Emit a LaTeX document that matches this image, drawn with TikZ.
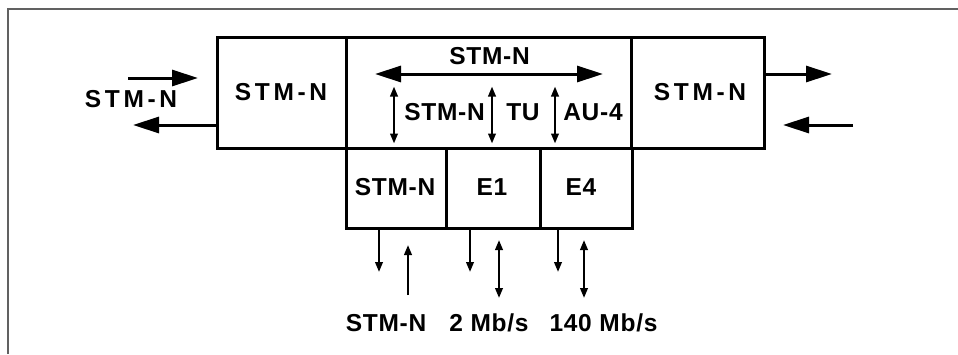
\documentclass[tikz,border=0pt]{standalone}
\usepackage{fontspec}
\setmainfont{Liberation Sans}
\newfontfamily\wide[LetterSpace=15]{Liberation Sans}
\newfontfamily\normalf[LetterSpace=3]{Liberation Sans}
\usetikzlibrary{arrows.meta}
\begin{document}
\begin{tikzpicture}[x=1pt,y=-1pt,
  box/.style={draw,line width=3pt,minimum width=#1,inner sep=0pt},
  txt/.style={inner sep=0pt,font=\normalf\fontsize{24.5}{24.5}\bfseries},
  wtxt/.style={inner sep=0pt,font=\wide\fontsize{24.5}{24.5}\bfseries},
  big/.style={line width=3pt,-{Triangle[length=26pt,width=16pt]}},
  sml/.style={line width=2.2pt,-{Triangle[length=10pt,width=7.5pt]}},
  dbl/.style={line width=2.2pt,{Triangle[length=10pt,width=7.5pt]}-{Triangle[length=10pt,width=7.5pt]}},
  bigdbl/.style={line width=3pt,{Triangle[length=26pt,width=16pt]}-{Triangle[length=26pt,width=16pt]}}]
\useasboundingbox (0,0) rectangle (958,354);
\draw[line width=1.8pt,draw=black!62] (7.7,354) -- (7.7,9.2) -- (958,9.2);
% top boxes
\node[box=129pt,minimum height=111pt] (L) at (281.5,92.5) {};
\node[box=285pt,minimum height=111pt] (M) at (488.5,92.5) {};
\node[box=133pt,minimum height=111pt] (R) at (697.5,92.5) {};
% bottom boxes
\node[box=100pt,minimum height=80pt] (B1) at (396,188) {};
\node[box=94pt,minimum height=80pt] (B2) at (493,188) {};
\node[box=92pt,minimum height=80pt] (B3) at (586,188) {};
% box texts
\node[wtxt] (tL) at (281,92) {STM-N};
\node[wtxt] (tR) at (700,92) {STM-N};
\node[txt] (tB1) at (395,187) {STM-N};
\node[txt] (tB2) at (492,187) {E1};
\node[txt] (tB3) at (581,187) {E4};
\node[txt] (tM) at (489.5,56) {STM-N};
\node[txt] (tM1) at (444.5,112.5) {STM-N};
\node[txt] (tM2) at (523,112.5) {TU};
\node[txt] (tM3) at (593,112.5) {AU-4};
% outside labels
\node[wtxt] (lab) at (131,99.5) {STM-N};
\node[txt] (o1) at (386,323) {STM-N};
\node[txt] (o2) at (489,323) {2 Mb/s};
\node[txt] (o3) at (603.5,323) {140 Mb/s};
% coordinates
\coordinate (a1) at (128,78);
\coordinate (a2) at (198,78);
\coordinate (a3) at (133,125);
\coordinate (a4) at (832,74);
\coordinate (a5) at (853,125);
\coordinate (a6) at (783,125);
\coordinate (h1) at (375,74);
\coordinate (h2) at (603,74);
% outside arrows
\draw[big] (a1) -- (a2);
\draw[big] (L.west |- a3) -- (a3);
\draw[big] (R.east |- a4) -- (a4);
\draw[big] (a5) -- (a6);
\draw[bigdbl] (h1) -- (h2);
% inner vertical arrows
\coordinate (v1a) at (394,86.5); \coordinate (v1b) at (394,143.5);
\coordinate (v2a) at (492,86.5); \coordinate (v2b) at (492,143.5);
\coordinate (v3a) at (555,86.5); \coordinate (v3b) at (555,143.5);
\draw[dbl] (v1a) -- (v1b);
\draw[dbl] (v2a) -- (v2b);
\draw[dbl] (v3a) -- (v3b);
% bottom arrows
\coordinate (d1) at (379,272);
\coordinate (u1a) at (408,295); \coordinate (u1b) at (408,245);
\coordinate (d2) at (470,272);
\coordinate (e2a) at (499,240); \coordinate (e2b) at (499,298);
\coordinate (d3) at (558,272);
\coordinate (e3a) at (584,240); \coordinate (e3b) at (584,298);
\draw[sml] (B1.south -| d1) -- (d1);
\draw[sml] (u1a) -- (u1b);
\draw[sml] (B2.south -| d2) -- (d2);
\draw[dbl] (e2a) -- (e2b);
\draw[sml] (B3.south -| d3) -- (d3);
\draw[dbl] (e3a) -- (e3b);
\end{tikzpicture}
\end{document}
